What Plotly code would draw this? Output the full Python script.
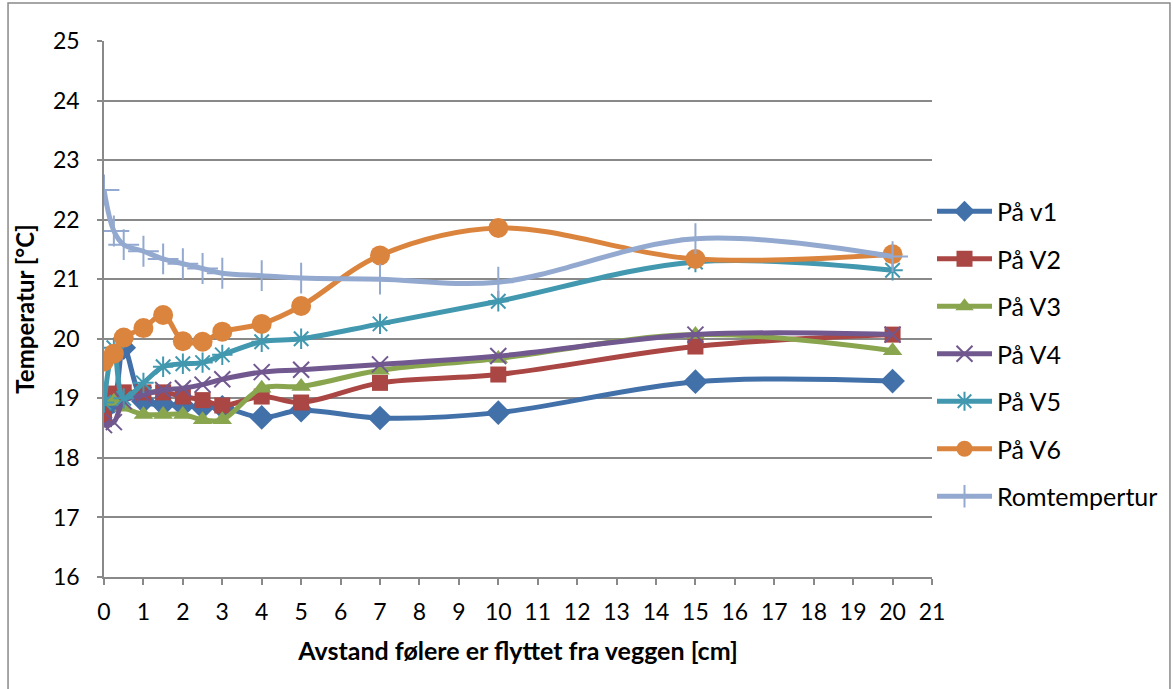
import plotly.graph_objects as go

# Distance of the sensors from the wall [cm]
avstand = [0, 0.25, 0.5, 1, 1.5, 2, 2.5, 3, 4, 5, 7, 10, 15, 20]

# Measured temperatures [°C]
paa_v1 = [18.80, 18.95, 19.85, 18.95, 18.90, 18.88, 18.85, 18.85, 18.68, 18.80, 18.67, 18.76, 19.28, 19.29]
paa_v2 = [18.65, 19.08, 19.10, 19.10, 19.10, 19.03, 18.97, 18.88, 19.03, 18.93, 19.26, 19.40, 19.87, 20.07]
paa_v3 = [18.95, 18.95, 18.85, 18.73, 18.73, 18.73, 18.64, 18.64, 19.17, 19.20, 19.47, 19.67, 20.07, 19.80]
paa_v4 = [18.55, 18.60, 18.95, 19.06, 19.14, 19.17, 19.23, 19.32, 19.44, 19.48, 19.57, 19.71, 20.07, 20.07]
paa_v5 = [18.93, 19.85, 19.00, 19.26, 19.53, 19.58, 19.60, 19.73, 19.95, 20.00, 20.25, 20.63, 21.29, 21.15]
paa_v6 = [19.62, 19.75, 20.02, 20.18, 20.40, 19.96, 19.95, 20.12, 20.25, 20.55, 21.40, 21.86, 21.34, 21.42]
romtemp = [22.50, 21.81, 21.58, 21.47, 21.34, 21.26, 21.18, 21.10, 21.06, 21.02, 21.00, 20.95, 21.68, 21.38]

serier = [
    ("På v1", paa_v1, "#4270A9", "diamond", 19, 0),
    ("På V2", paa_v2, "#AA4643", "square", 16, 0),
    ("På V3", paa_v3, "#89A54E", "triangle-up", 17, 0),
    ("På V4", paa_v4, "#71588F", "x-thin-open", 16, 2),
    ("På V5", paa_v5, "#4198AF", "asterisk-open", 17, 2),
    ("På V6", paa_v6, "#DB843D", "circle", 20, 0),
    ("Romtempertur", romtemp, "#93A9CF", "cross-thin-open", 22, 2),
]

FONT = "Lato, 'Open Sans', sans-serif"
GRID = "#898989"

fig = go.Figure()
for i, (navn, verdier, farge, symbol, size, lw) in enumerate(serier):
    marker = dict(symbol=symbol, size=size, color=farge)
    if lw:
        marker["line"] = dict(color=farge, width=lw)
    fig.add_trace(go.Scatter(
        x=avstand, y=verdier, name=navn, mode="lines+markers",
        line=dict(color=farge, width=5, shape="spline", smoothing=1.0),
        marker=marker, legendgroup=f"g{i}",
    ))

fig.update_layout(
    width=1173, height=689,
    margin=dict(l=104, r=241, t=41, b=112, autoexpand=False),
    paper_bgcolor="white", plot_bgcolor="white",
    font=dict(family=FONT, size=22, color="#000000"),
    showlegend=True,
    legend=dict(
        x=1.0, xanchor="left", y=0.416, yanchor="middle",
        font=dict(family=FONT, size=25, color="#000000"),
        tracegroupgap=12, itemwidth=55, bgcolor="rgba(0,0,0,0)",
    ),
    xaxis=dict(
        range=[0, 21], dtick=1, tick0=0, automargin=False,
        showgrid=False, zeroline=False,
        showline=True, linecolor=GRID, linewidth=1.5,
        ticks="outside", ticklen=6, tickcolor=GRID, tickwidth=1.5,
        tickfont=dict(family=FONT, size=23), ticklabelstandoff=8,
        title=dict(text="<b>Avstand følere er flyttet fra veggen [cm]</b>",
                   font=dict(family=FONT, size=25), standoff=18),
    ),
    yaxis=dict(
        range=[16, 25], dtick=1, tick0=16, automargin=False,
        showgrid=True, gridcolor=GRID, gridwidth=1.5, zeroline=False,
        showline=True, linecolor=GRID, linewidth=1.5,
        ticks="outside", ticklen=5, tickcolor=GRID, tickwidth=1.5,
        tickfont=dict(family=FONT, size=23), ticklabelstandoff=13,
        title=dict(text="<b>Temperatur [°C]</b>",
                   font=dict(family=FONT, size=24), standoff=12),
    ),
)

# Outer chart frame
fig.add_shape(type="rect", xref="paper", yref="paper",
              x0=-0.1159, x1=1.2874, y0=-0.25, y1=1.0709,
              line=dict(color=GRID, width=1.5), fillcolor="rgba(0,0,0,0)", layer="below")

fig.write_html("out.html")
